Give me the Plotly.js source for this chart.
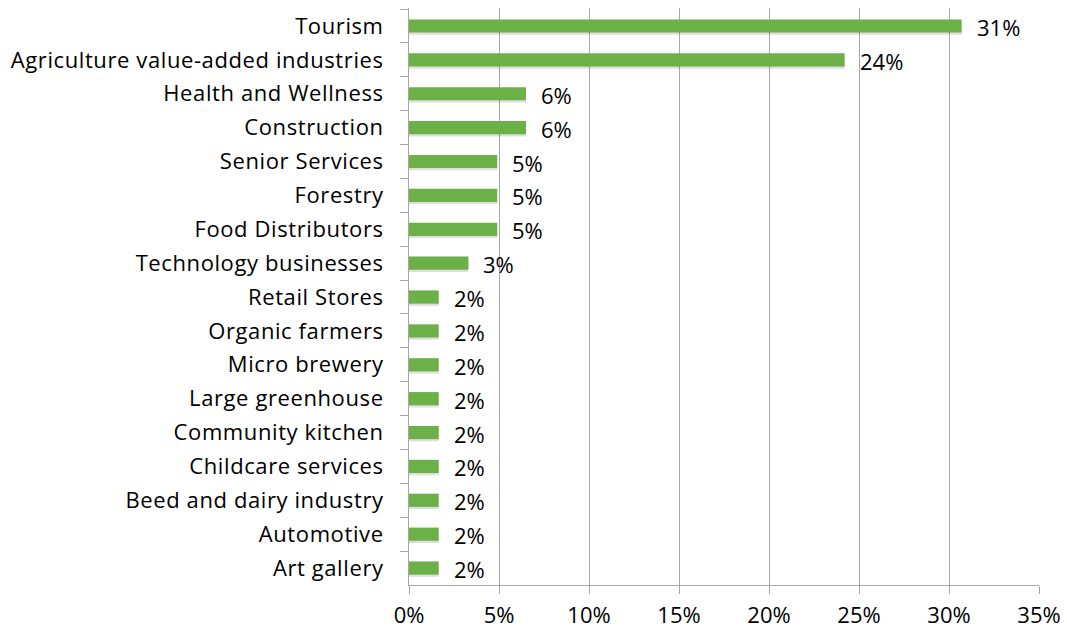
<!DOCTYPE html>
<html><head><meta charset="utf-8">
<script src="https://cdn.plot.ly/plotly-3.0.1.min.js"></script>
<style>body{margin:0;background:#fff}#c{width:1067px;height:633px}
#c .ytick text{letter-spacing:0.6px}</style>
</head><body><div id="c"></div>
<script>
const categories = ["Tourism","Agriculture value-added industries","Health and Wellness","Construction","Senior Services","Forestry","Food Distributors","Technology businesses","Retail Stores","Organic farmers","Micro brewery","Large greenhouse","Community kitchen","Childcare services","Beed and dairy industry","Automotive","Art gallery"];
const values = [30.7,24.2,6.5,6.5,4.9,4.9,4.9,3.3,1.65,1.65,1.65,1.65,1.65,1.65,1.65,1.65,1.65];
const labels = ["31%","24%","6%","6%","5%","5%","5%","3%","2%","2%","2%","2%","2%","2%","2%","2%","2%"];
const xTicks = [0,5,10,15,20,25,30,35];
const xTickLabels = ["0%","5%","10%","15%","20%","25%","30%","35%"];

const font = "'Open Sans', 'DejaVu Sans', sans-serif";
const fs = 22;
const shadow = {type:"bar", orientation:"h", x:values, y:categories, width:0.42, offset:-0.16,
  marker:{color:"rgba(0,0,0,0.13)", line:{width:0}}, hoverinfo:"skip", showlegend:false};
const bars = {type:"bar", orientation:"h", x:values, y:categories, width:0.39,
  marker:{color:"#6cb048", line:{width:0}}, showlegend:false};
const annotations = values.map((v,i)=>({x:v, y:categories[i], text:labels[i], xanchor:"left",
  xshift:13, yshift:-1, showarrow:false, font:{family:font, size:fs, color:"#000"}}));

Plotly.newPlot("c",[shadow,bars],{
  width:1067,height:633,
  margin:{l:409,r:28,t:8,b:48,pad:0},
  paper_bgcolor:"#fff",plot_bgcolor:"#fff",
  barmode:"overlay",
  xaxis:{range:[0,35],tickvals:xTicks,ticktext:xTickLabels,showgrid:true,gridcolor:"#a6a6a6",gridwidth:1,
    showline:true,linecolor:"#a6a6a6",ticks:"outside",ticklen:8,tickcolor:"#a6a6a6",zeroline:false,
    tickfont:{family:font,size:fs,color:"#000"},ticklabelstandoff:3,fixedrange:true},
  yaxis:{type:"category",autorange:"reversed",showline:true,linecolor:"#a6a6a6",ticks:"outside",
    tickson:"boundaries",ticklen:8,tickcolor:"#a6a6a6",showgrid:false,
    tickfont:{family:font,size:fs,color:"#000"},ticklabelstandoff:20},
  annotations:annotations
},{displayModeBar:false,staticPlot:true});
</script></body></html>
